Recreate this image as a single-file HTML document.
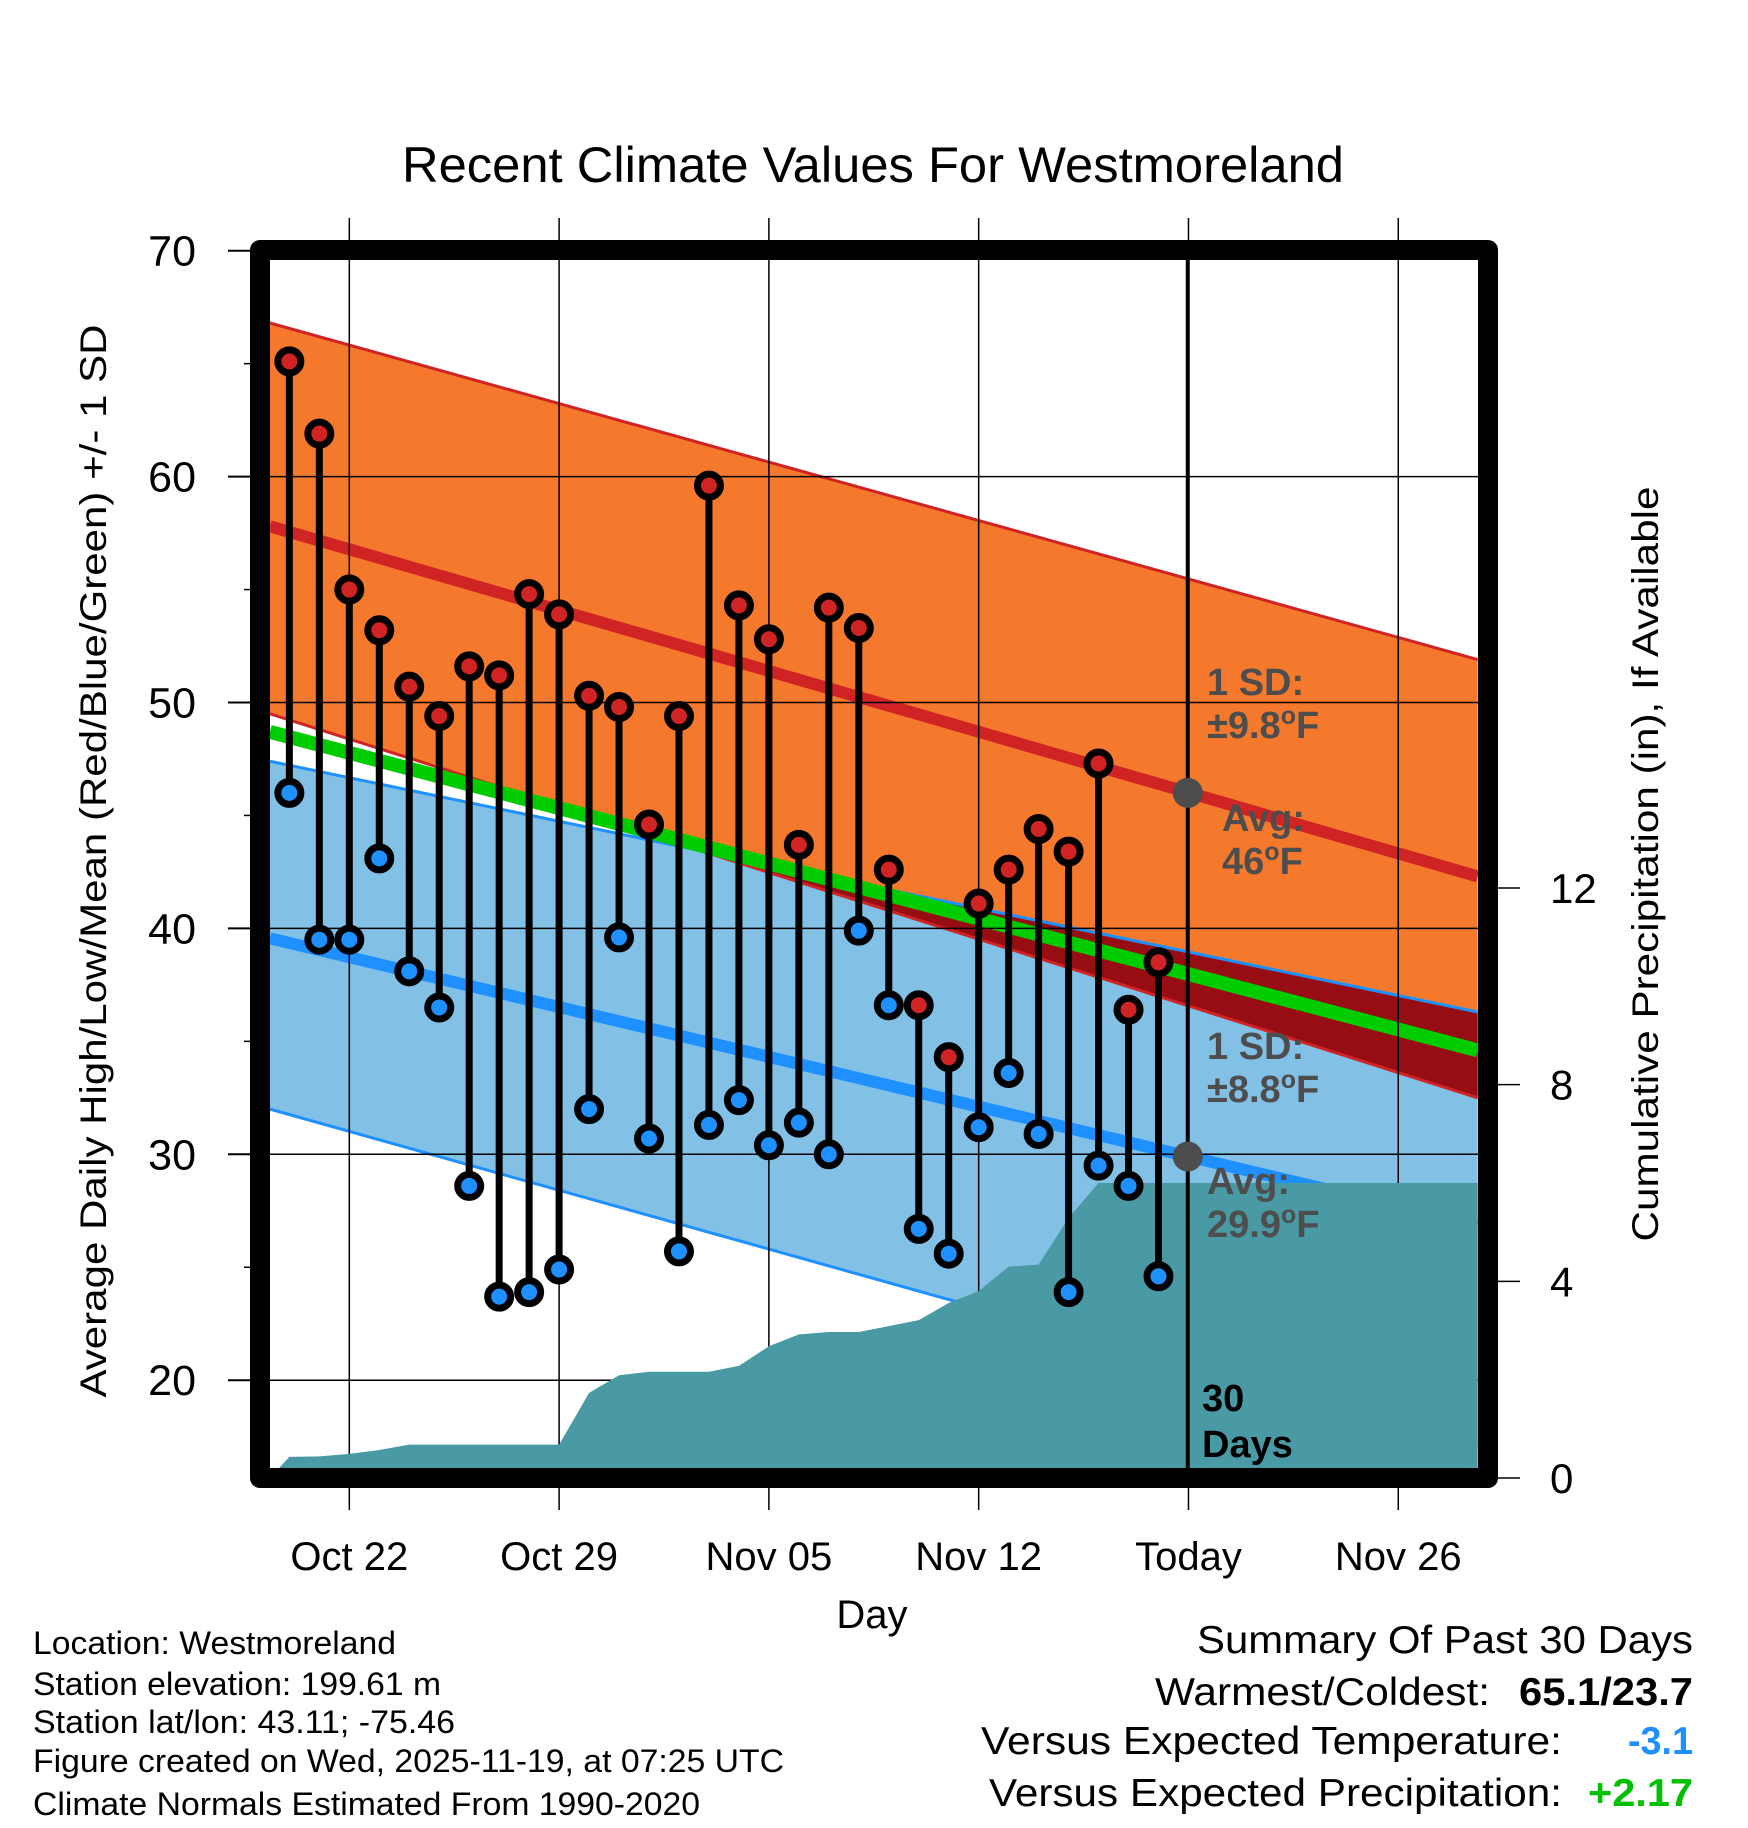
<!DOCTYPE html>
<html><head><meta charset="utf-8"><title>Recent Climate Values For Westmoreland</title>
<style>
html,body{margin:0;padding:0;background:#fff;}
svg{display:block;font-family:"Liberation Sans",Arial,sans-serif;}
</style></head>
<body>
<svg id="chart" width="1748" height="1828" viewBox="0 0 1748 1828" xmlns="http://www.w3.org/2000/svg">
<defs>
<clipPath id="plotClip"><rect x="270" y="260" width="1208" height="1208"/></clipPath>
</defs>
<text x="873" y="182" font-size="50" text-anchor="middle" textLength="942" lengthAdjust="spacingAndGlyphs">Recent Climate Values For Westmoreland</text>
<g id="plot"></g>
<g id="axes"></g>
<text transform="translate(106,861) rotate(-90)" font-size="37" text-anchor="middle" textLength="1073" lengthAdjust="spacingAndGlyphs">Average Daily High/Low/Mean (Red/Blue/Green) +/- 1 SD</text>
<text transform="translate(1658,864) rotate(-90)" font-size="37" text-anchor="middle" textLength="755" lengthAdjust="spacingAndGlyphs">Cumulative Precipitation (in), If Available</text>
<text x="872" y="1628" font-size="40" text-anchor="middle">Day</text>
<g font-size="32">
<text x="33" y="1654" textLength="363" lengthAdjust="spacingAndGlyphs">Location: Westmoreland</text>
<text x="33" y="1695" textLength="408" lengthAdjust="spacingAndGlyphs">Station elevation: 199.61 m</text>
<text x="33" y="1733" textLength="422" lengthAdjust="spacingAndGlyphs">Station lat/lon: 43.11; -75.46</text>
<text x="33" y="1772" textLength="751" lengthAdjust="spacingAndGlyphs">Figure created on Wed, 2025-11-19, at 07:25 UTC</text>
<text x="33" y="1815" textLength="667" lengthAdjust="spacingAndGlyphs">Climate Normals Estimated From 1990-2020</text>
</g>
<g font-size="39">
<text x="1197" y="1653" textLength="496" lengthAdjust="spacingAndGlyphs">Summary Of Past 30 Days</text>
<text x="1155" y="1705" textLength="335" lengthAdjust="spacingAndGlyphs">Warmest/Coldest:</text>
<text x="1519" y="1705" font-weight="bold" textLength="174" lengthAdjust="spacingAndGlyphs">65.1/23.7</text>
<text x="981" y="1754" textLength="581" lengthAdjust="spacingAndGlyphs">Versus Expected Temperature:</text>
<text x="1628" y="1754" font-weight="bold" fill="#1e90ff" textLength="65" lengthAdjust="spacingAndGlyphs">-3.1</text>
<text x="989" y="1806" textLength="573" lengthAdjust="spacingAndGlyphs">Versus Expected Precipitation:</text>
<text x="1588" y="1806" font-weight="bold" fill="#00c000" textLength="105" lengthAdjust="spacingAndGlyphs">+2.17</text>
</g>
</svg>
<script>
// ---- data ----
const dayLabels = ["Oct 20","Oct 21","Oct 22","Oct 23","Oct 24","Oct 25","Oct 26","Oct 27","Oct 28","Oct 29","Oct 30","Oct 31","Nov 01","Nov 02","Nov 03","Nov 04","Nov 05","Nov 06","Nov 07","Nov 08","Nov 09","Nov 10","Nov 11","Nov 12","Nov 13","Nov 14","Nov 15","Nov 16","Nov 17","Nov 18"];
const highs = [65.1,61.9,55.0,53.2,50.7,49.4,51.6,51.2,54.8,53.9,50.3,49.8,44.6,49.4,59.6,54.3,52.8,43.7,54.2,53.3,42.6,36.6,34.3,41.1,42.6,44.4,43.4,47.3,36.4,38.5];
const lows = [46.0,39.5,39.5,43.1,38.1,36.5,28.6,23.7,23.9,24.9,32.0,39.6,30.7,25.7,31.3,32.4,30.4,31.4,30.0,39.9,36.6,26.7,25.6,31.2,33.6,30.9,23.9,29.5,28.6,24.6];
const precipCum = [0.43,0.44,0.49,0.57,0.68,0.68,0.68,0.68,0.68,0.68,1.73,2.09,2.16,2.16,2.16,2.28,2.68,2.92,2.97,2.97,3.09,3.21,3.56,3.80,4.30,4.34,5.29,6.00,6.00,6.00];
// normals at left edge / right edge of plot
const normHighMean = [57.8, 42.3];
const normHighUpper = [66.8, 51.9];
const normHighLower = [49.5, 32.5];
const normLowMean = [39.56, 26.86];
const normLowUpper = [47.4, 36.3];
const normLowLower = [32.0, 17.0];
const normMean = [48.7, 34.6];
const xTickLabels = ["Oct 22","Oct 29","Nov 05","Nov 12","Today","Nov 26"];
const xTickDays = [3,10,17,24,31,38];
const yTicks = [20,30,40,50,60,70];
const yMinorTicks = [25,35,45,55,65];
const precipTicks = [0,4,8,12];
const todayHighAvg = 46.0;
const todayLowAvg = 29.9;

// ---- scales ----
const X0 = 259.4, DX = 29.97;
const dStart = 0.35, dEnd = 40.65, dToday = 31;
function x(d){ return X0 + d*DX; }
function yT(t){ return 250.7 + (70 - t)*22.59; }
function yP(p){ return 1478 - p*49.17; }
const NS = "http://www.w3.org/2000/svg";
function mk(tag, attrs, parent){
  const e = document.createElementNS(NS, tag);
  for (const k in attrs) e.setAttribute(k, attrs[k]);
  parent.appendChild(e); return e;
}
function lineAt(arr, d){ return arr[0] + (arr[1]-arr[0])*(d-dStart)/(dEnd-dStart); }
function bandPts(up, lo){
  return [x(dStart)+","+yT(up[0]), x(dEnd)+","+yT(up[1]), x(dEnd)+","+yT(lo[1]), x(dStart)+","+yT(lo[0])].join(" ");
}
const plot = document.getElementById('plot');
const axes = document.getElementById('axes');
const g = mk('g', {'clip-path':'url(#plotClip)'}, plot);

const lowBand = mk('polygon', {points: bandPts(normLowUpper, normLowLower), fill:'#82c0e6'}, g);


const highBand = mk('polygon', {points: bandPts(normHighUpper, normHighLower), fill:'#f4792d'}, g);


(function(){
  const a0 = normLowUpper[0]-normHighLower[0], a1 = normLowUpper[1]-normHighLower[1];
  if (a0 <= 0 && a1 <= 0) return;
  let ds = dStart, de = dEnd;
  if (a0 <= 0) ds = dStart + (dEnd-dStart)*(-a0)/(a1-a0);
  if (a1 <= 0) de = dStart + (dEnd-dStart)*(a0)/(a0-a1);
  const pts = [x(ds)+","+yT(lineAt(normLowUpper,ds)), x(de)+","+yT(lineAt(normLowUpper,de)), x(de)+","+yT(lineAt(normHighLower,de)), x(ds)+","+yT(lineAt(normHighLower,ds))].join(" ");
  const ov = mk('polygon', {points: pts, fill:'#970d14'}, g);
  
  
})();
function nline(arr, color, w, name){
  const l = mk('line', {x1:x(dStart), y1:yT(arr[0]), x2:x(dEnd), y2:yT(arr[1]), stroke:color, 'stroke-width':w}, g);
  
  
}
nline(normHighUpper, '#d02424', 3, 'high-upper-sd-line');
nline(normHighLower, '#d02424', 3, 'high-lower-sd-line');
nline(normLowUpper, '#1e90ff', 3, 'low-upper-sd-line');
nline(normLowLower, '#1e90ff', 3, 'low-lower-sd-line');
nline(normMean, '#00cc00', 14, 'mean-normal-line');
nline(normHighMean, '#d02424', 12, 'high-normal-line');
nline(normLowMean, '#1e90ff', 12, 'low-normal-line');

yTicks.forEach(t => {
  if (t === 70) return;
  const l = mk('line', {x1:270, y1:yT(t), x2:1478, y2:yT(t), stroke:'#000', 'stroke-width':1.5}, g);
  
  
});
xTickDays.forEach(d => {
  const l = mk('line', {x1:x(d), y1:218, x2:x(d), y2:1510, stroke:'#000', 'stroke-width':1.5}, plot);
  
  
});
(function(){
  let pts = [x(dStart)+","+yP(0)];
  precipCum.forEach((p,i) => pts.push(x(i+1)+","+yP(p)));
  pts.push(x(dEnd)+","+yP(precipCum[precipCum.length-1]));
  pts.push(x(dEnd)+","+yP(0));
  const pa = mk('polygon', {points: pts.join(" "), fill:'#4a9aa5'}, plot);
  pa.setAttribute('clip-path', 'url(#plotClip)');
  
  
})();

function ann(tx, ty, text, sup, name, color){
  const t = mk('text', {x:tx, y:ty, 'font-size':38, 'font-weight':'bold', fill:color}, plot);
  
  
  if (sup){
    t.appendChild(document.createTextNode(text));
    const s = mk('tspan', {dy:-14, 'font-size':25}, t); s.textContent = 'o';
    const f = mk('tspan', {dy:14}, t); f.textContent = 'F';
  } else t.textContent = text;
}
ann(1207, 695, '1 SD:', false, 'high-sd-label', '#4d4d4d');
ann(1207, 738, '\u00b19.8', true, 'high-sd-value', '#4d4d4d');
ann(1222, 831, 'Avg:', false, 'high-avg-label', '#4d4d4d');
ann(1222, 874, '46', true, 'high-avg-value', '#4d4d4d');
ann(1207, 1059, '1 SD:', false, 'low-sd-label', '#4d4d4d');
ann(1207, 1102, '\u00b18.8', true, 'low-sd-value', '#4d4d4d');
ann(1207, 1194, 'Avg:', false, 'low-avg-label', '#4d4d4d');
ann(1207, 1237, '29.9', true, 'low-avg-value', '#4d4d4d');
ann(1202, 1411, '30', false, 'days-count-label', '#000');
ann(1202, 1457, 'Days', false, 'days-word-label', '#000');

const tl = mk('line', {x1:x(dToday)-0.7, y1:260, x2:x(dToday)-0.7, y2:1468, stroke:'#000', 'stroke-width':4}, plot);


const c1 = mk('circle', {cx:x(dToday)-0.7, cy:yT(todayHighAvg), r:15, fill:'#4d4d4d'}, plot);


const c2 = mk('circle', {cx:x(dToday)-0.7, cy:yT(todayLowAvg), r:15, fill:'#4d4d4d'}, plot);



highs.forEach((h,i) => {
  const d = i+1;
  const st = mk('line', {x1:x(d), y1:yT(h), x2:x(d), y2:yT(lows[i]), stroke:'#000', 'stroke-width':7}, plot);
  
  
});
highs.forEach((h,i) => {
  const d = i+1;
  const hp = mk('circle', {cx:x(d), cy:yT(h), r:11.5, fill:'#d02424', stroke:'#000', 'stroke-width':7}, plot);
  
  
  const lp = mk('circle', {cx:x(d), cy:yT(lows[i]), r:11.5, fill:'#1e90ff', stroke:'#000', 'stroke-width':7}, plot);
  
  
});

const fr = mk('rect', {x:260, y:250, width:1228, height:1228, fill:'none', stroke:'#000', 'stroke-width':20, 'stroke-linejoin':'round'}, axes);



yTicks.forEach(t => {
  const tk = mk('line', {x1:228, y1:yT(t), x2:260, y2:yT(t), stroke:'#000', 'stroke-width':2}, axes);
  
  
  const lb = mk('text', {x:196, y:yT(t)+15, 'font-size':43, 'text-anchor':'end'}, axes);
  
  
  lb.textContent = t;
});
yMinorTicks.forEach(t => {
  const tk = mk('line', {x1:244, y1:yT(t), x2:260, y2:yT(t), stroke:'#000', 'stroke-width':1.5}, axes);
  
  
});
precipTicks.forEach(p => {
  const tk = mk('line', {x1:1488, y1:yP(p), x2:1520, y2:yP(p), stroke:'#000', 'stroke-width':1.5}, axes);
  
  
  const lb = mk('text', {x:1550, y:yP(p)+15, 'font-size':42}, axes);
  
  
  lb.textContent = p;
});
xTickLabels.forEach((s,i) => {
  const lb = mk('text', {x:x(xTickDays[i]), y:1570, 'font-size':40, 'text-anchor':'middle'}, axes);
  
  
  lb.textContent = s;
});
</script>
</body></html>
